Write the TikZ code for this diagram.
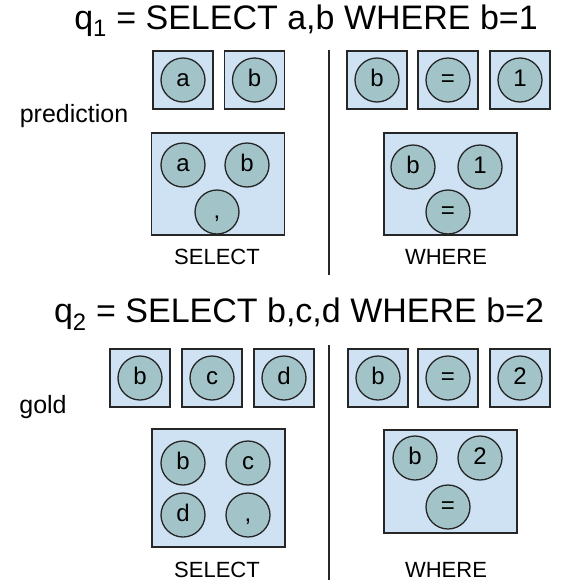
\documentclass[tikz,border=0pt]{standalone}
\usepackage{fontspec}
\setmainfont{Liberation Sans}
\usepackage{tikz}

\definecolor{boxfill}{HTML}{CFE2F3}
\definecolor{tokfill}{HTML}{A2C4C9}

\begin{document}
\begin{tikzpicture}[x=1pt,y=-1pt,
  box/.style={draw=black!85, line width=1.8pt, fill=boxfill, inner sep=0pt,
    minimum width=60pt, minimum height=58pt},
  bigbox/.style={box, minimum width=133pt},
  tok/.style={circle, draw=black!85, line width=1.3pt, fill=tokfill, inner sep=0pt,
    minimum size=44pt, text height=17pt, text depth=3.8pt,
    font=\fontsize{24}{24}\selectfont},
  title/.style={anchor=base, font=\fontsize{34}{34}\selectfont},
  side/.style={font=\fontsize{25}{25}\selectfont},
  caption/.style={font=\fontsize{22}{22}\selectfont},
  divider/.style={line width=1.8pt, black!85}]
  \useasboundingbox (0,0) rectangle (581,584);

  % predicted query
  \node[title] (t1) at (306,29) {q\textsubscript{1} = SELECT a,b WHERE b=1};
  \node[side] (pred) at (74,116) {prediction};

  \node[box] (ps1) at (183,80) {};
  \node[tok] at (ps1) {a};
  \node[box] (ps2) at (254.5,80) {};
  \node[tok] at (ps2) {b};
  \node[bigbox, minimum height=102pt] (psel) at (218,184) {};
  \node[tok] at (183,165) {a};
  \node[tok] at (247,165) {b};
  \node[tok] at (217,212) {,};
  \node[caption] (pselL) at (217,257) {SELECT};

  \coordinate (d1a) at (329,50);
  \coordinate (d1b) at (329,275);
  \draw[divider] (d1a) -- (d1b);

  \node[box] (pw1) at (377,80) {};
  \node[tok] at (pw1) {b};
  \node[box] (pw2) at (448,80) {};
  \node[tok] at (pw2) {=};
  \node[box] (pw3) at (520,80) {};
  \node[tok] at (pw3) {1};
  \node[bigbox, minimum height=102pt] (pwhr) at (450.5,184) {};
  \node[tok] at (413,167) {b};
  \node[tok] at (480,167) {1};
  \node[tok] at (448,212) {=};
  \node[caption] (pwhrL) at (446,257) {WHERE};

  % gold query
  \node[title] (t2) at (299,322) {q\textsubscript{2} = SELECT b,c,d WHERE b=2};
  \node[side] (gold) at (43,407) {gold};

  \node[box] (gs1) at (140,378) {};
  \node[tok] at (gs1) {b};
  \node[box] (gs2) at (212,378) {};
  \node[tok] at (gs2) {c};
  \node[box] (gs3) at (284,378) {};
  \node[tok] at (gs3) {d};
  \node[bigbox, minimum height=118pt] (gsel) at (218.5,488) {};
  \node[tok] at (183,463) {b};
  \node[tok] at (248,463) {c};
  \node[tok] at (183,515) {d};
  \node[tok] at (248,515) {,};
  \node[caption] (gselL) at (217,570) {SELECT};

  \coordinate (d2a) at (329,345);
  \coordinate (d2b) at (329,580);
  \draw[divider] (d2a) -- (d2b);

  \node[box] (gw1) at (378,378) {};
  \node[tok] at (gw1) {b};
  \node[box] (gw2) at (448,378) {};
  \node[tok] at (gw2) {=};
  \node[box] (gw3) at (520,378) {};
  \node[tok] at (gw3) {2};
  \node[bigbox, minimum height=103pt] (gwhr) at (450.5,481.5) {};
  \node[tok] at (415,458) {b};
  \node[tok] at (480,458) {2};
  \node[tok] at (448,507) {=};
  \node[caption] (gwhrL) at (446,570) {WHERE};
\end{tikzpicture}
\end{document}
